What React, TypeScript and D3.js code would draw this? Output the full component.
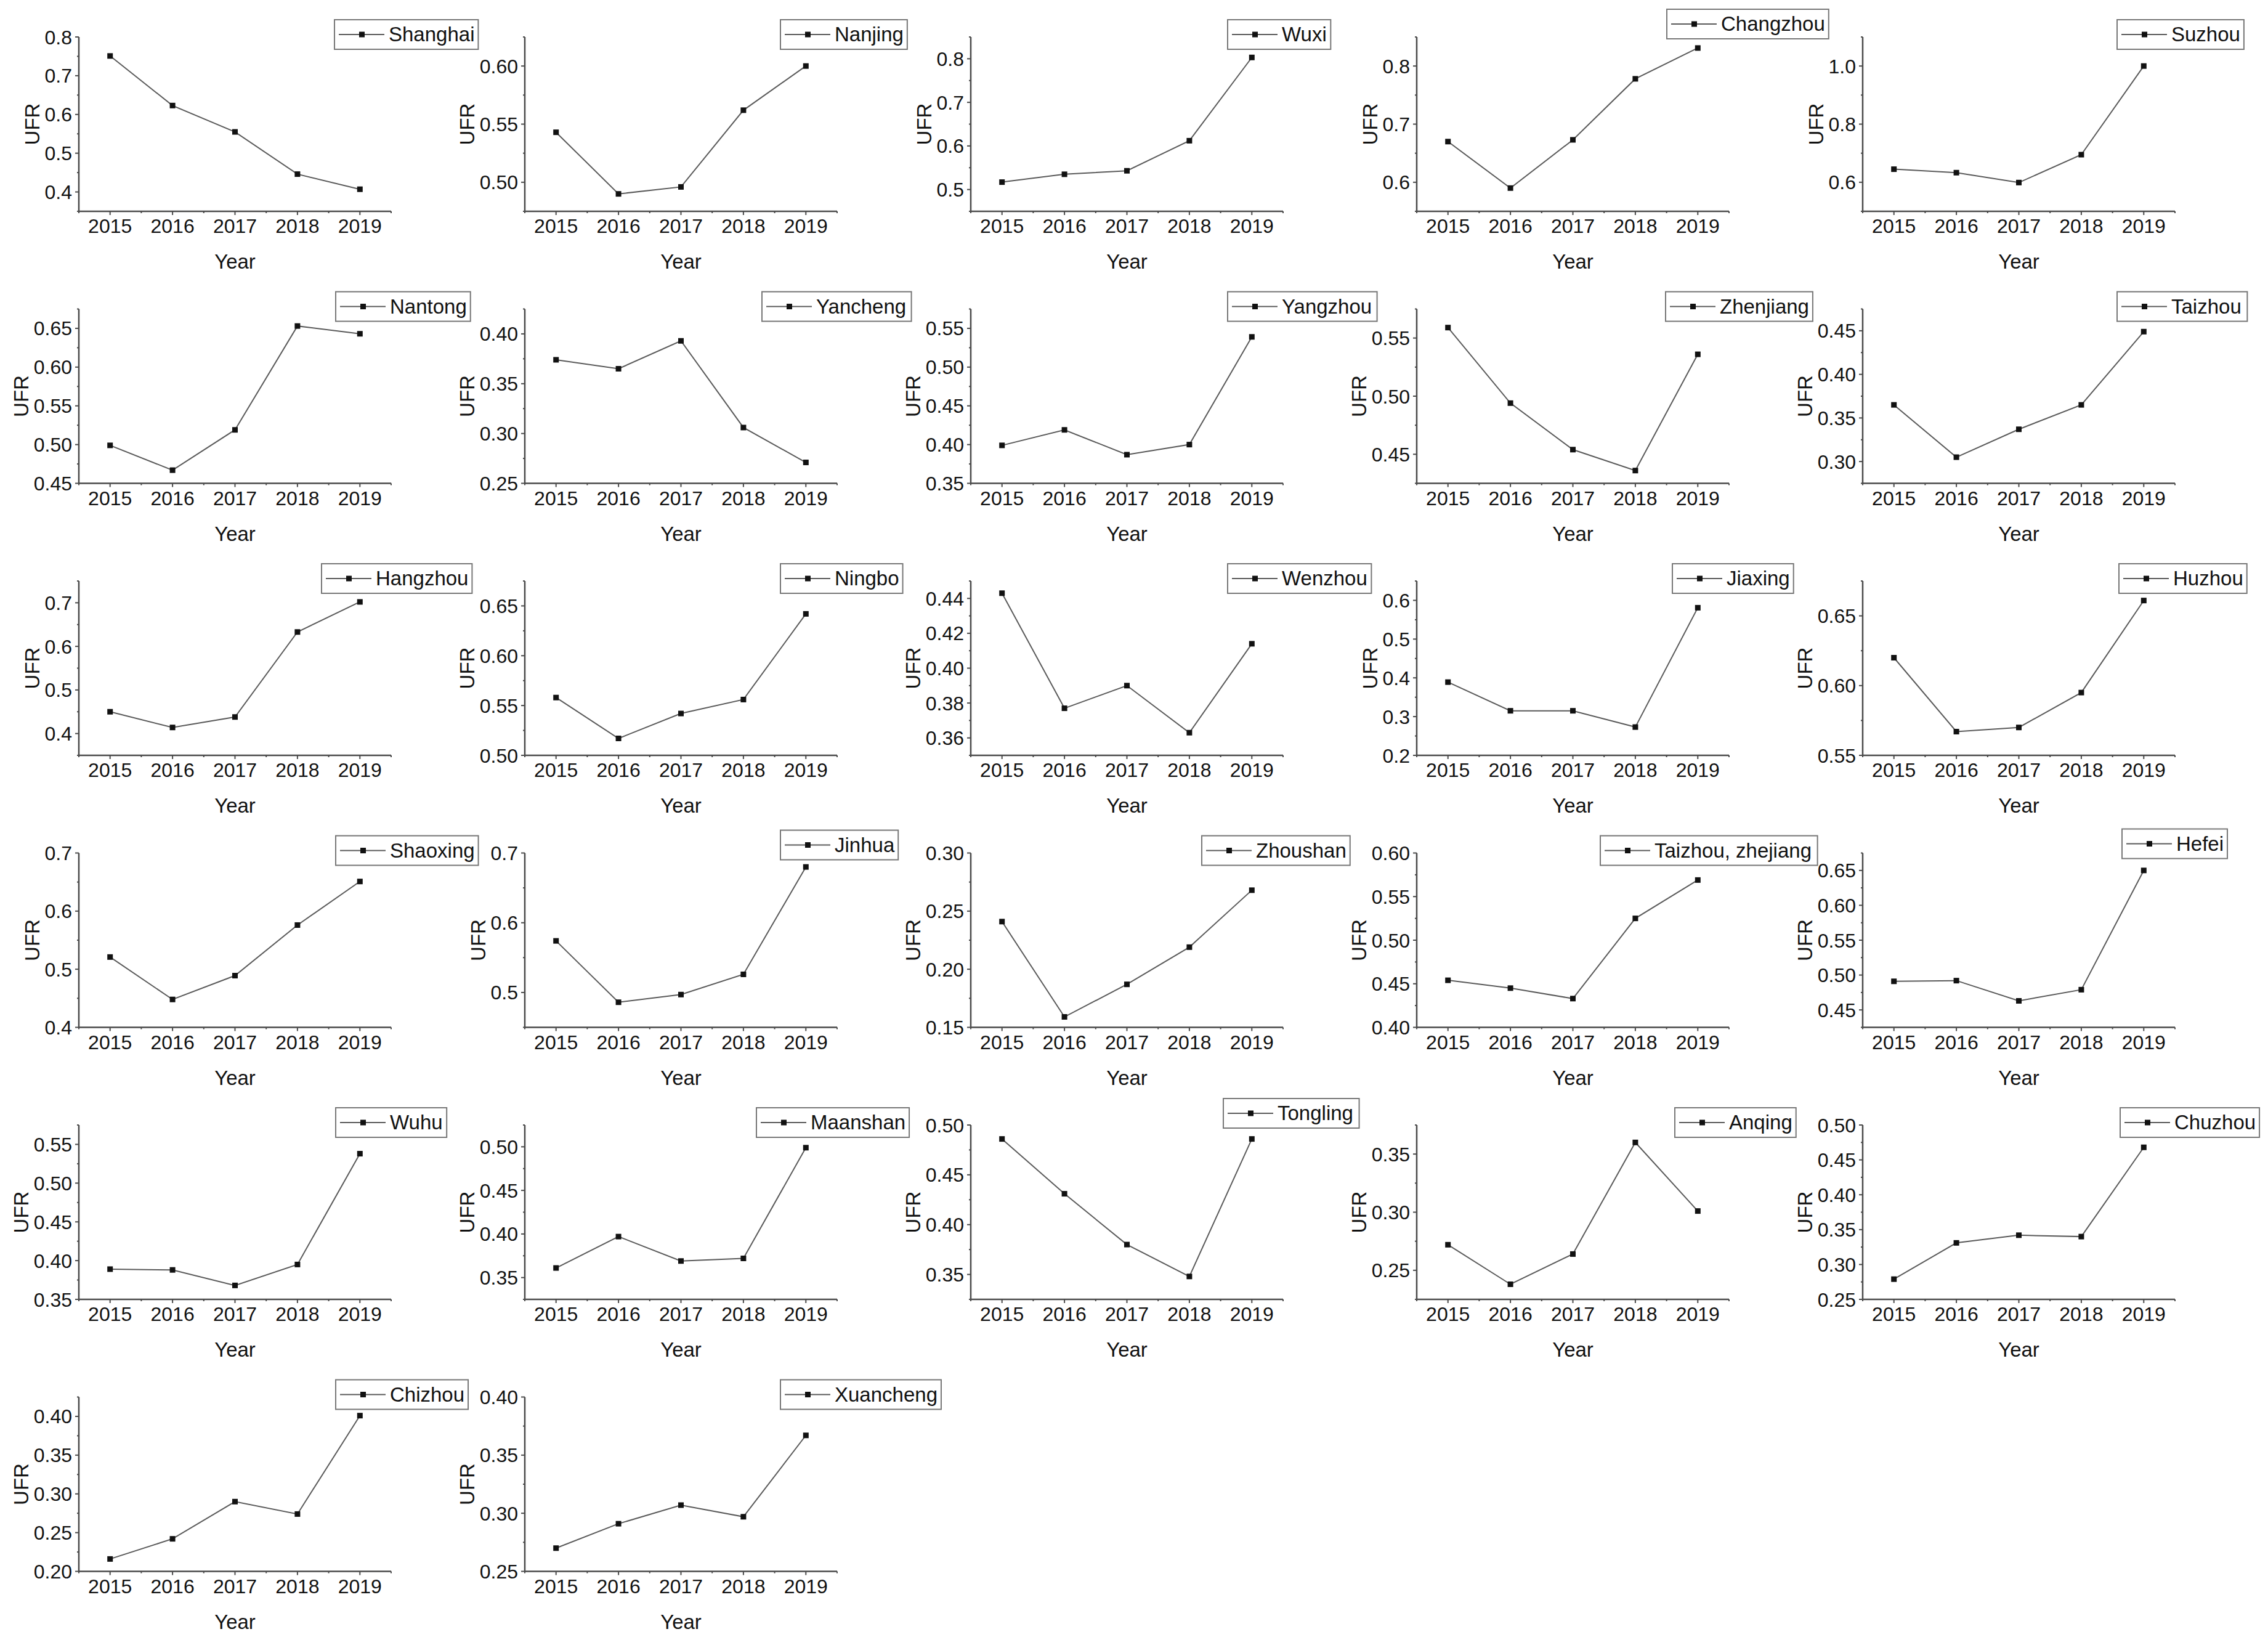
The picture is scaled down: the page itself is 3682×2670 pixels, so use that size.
import * as d3 from "d3";

const years = [2015, 2016, 2017, 2018, 2019];

const cities = [
  "Shanghai", "Nanjing", "Wuxi", "Changzhou", "Suzhou",
  "Nantong", "Yancheng", "Yangzhou", "Zhenjiang", "Taizhou",
  "Hangzhou", "Ningbo", "Wenzhou", "Jiaxing", "Huzhou",
  "Shaoxing", "Jinhua", "Zhoushan", "Taizhou, zhejiang", "Hefei",
  "Wuhu", "Maanshan", "Tongling", "Anqing", "Chuzhou",
  "Chizhou", "Xuancheng",
];

// UFR per city, 2015..2019
const ufr = [
  [0.751, 0.623, 0.555, 0.446, 0.407],
  [0.543, 0.49, 0.496, 0.562, 0.6],
  [0.517, 0.535, 0.543, 0.612, 0.803],
  [0.67, 0.59, 0.673, 0.778, 0.831],
  [0.645, 0.633, 0.599, 0.695, 1.0],
  [0.499, 0.467, 0.519, 0.653, 0.643],
  [0.374, 0.365, 0.393, 0.306, 0.271],
  [0.399, 0.419, 0.387, 0.4, 0.539],
  [0.559, 0.494, 0.454, 0.436, 0.536],
  [0.365, 0.305, 0.337, 0.365, 0.449],
  [0.45, 0.414, 0.438, 0.633, 0.702],
  [0.558, 0.517, 0.542, 0.556, 0.642],
  [0.443, 0.377, 0.39, 0.363, 0.414],
  [0.389, 0.315, 0.315, 0.273, 0.581],
  [0.62, 0.567, 0.57, 0.595, 0.661],
  [0.521, 0.448, 0.489, 0.576, 0.651],
  [0.574, 0.486, 0.497, 0.526, 0.68],
  [0.241, 0.159, 0.187, 0.219, 0.268],
  [0.454, 0.445, 0.433, 0.525, 0.569],
  [0.491, 0.492, 0.463, 0.479, 0.65],
  [0.389, 0.388, 0.368, 0.395, 0.538],
  [0.361, 0.397, 0.369, 0.372, 0.499],
  [0.486, 0.431, 0.38, 0.348, 0.486],
  [0.272, 0.238, 0.264, 0.36, 0.301],
  [0.279, 0.331, 0.342, 0.34, 0.468],
  [0.216, 0.242, 0.29, 0.274, 0.401],
  [0.27, 0.291, 0.307, 0.297, 0.367],
];

// y axis ranges and major tick step per panel
const yMin = [0.35, 0.475, 0.45, 0.55, 0.5, 0.45, 0.25, 0.35, 0.425, 0.275, 0.35, 0.5, 0.35, 0.2, 0.55, 0.4, 0.45, 0.15, 0.4, 0.425, 0.35, 0.325, 0.325, 0.225, 0.25, 0.2, 0.25];
const yMax = [0.8, 0.625, 0.85, 0.85, 1.1, 0.675, 0.425, 0.575, 0.575, 0.475, 0.75, 0.675, 0.45, 0.65, 0.675, 0.7, 0.7, 0.3, 0.6, 0.675, 0.575, 0.525, 0.5, 0.375, 0.5, 0.425, 0.4];
const yStep = [0.1, 0.05, 0.1, 0.1, 0.2, 0.05, 0.05, 0.05, 0.05, 0.05, 0.1, 0.05, 0.02, 0.1, 0.05, 0.1, 0.1, 0.05, 0.05, 0.05, 0.05, 0.05, 0.05, 0.05, 0.05, 0.05, 0.05];

// legend box placement inside each panel
const legendX = [543, 543, 545, 534, 541, 545, 513, 545, 532, 541, 522, 543, 545, 543, 544, 545, 543, 503, 426, 549, 545, 504, 538, 547, 546, 545, 543];
const legendDy = [0, 0, 0, -17, 0, 0, 0, 0, 0, 0, 0, 0, 0, 0, 0, 0, -9, 0, 0, -11, 0, 0, -15, 0, 0, 0, 0];

const W = 3682;
const H = 2670;
const COL_W = 724;
const ROW_H = 441.5;
const PL = 128;
const PR = 635;
const PT = 60;
const PB = 343;
const FONT = "'Liberation Sans', Arial, sans-serif";
const AXIS = "#4a4a4a";

// Arial advance widths (per 1000 em)
const widths: Record<string, number> = {
  a: 556, b: 556, c: 500, d: 556, e: 556, f: 278, g: 556, h: 556, i: 222, j: 222, k: 500, l: 222, m: 833,
  n: 556, o: 556, p: 556, q: 556, r: 333, s: 500, t: 278, u: 556, v: 500, w: 722, x: 500, y: 500, z: 500,
  A: 667, C: 722, H: 722, J: 500, M: 833, N: 722, S: 667, T: 611, W: 944, X: 667, Y: 667, Z: 611,
  ",": 278, " ": 278, ".": 278,
};
const textWidth = (s: string, size: number) =>
  s.split("").reduce((acc, ch) => acc + (widths[ch] ?? 556), 0) * size / 1000;

function Panel({ i }: { i: number }) {
  const col = i % 5;
  const row = Math.floor(i / 5);
  const ox = col * COL_W;
  const oy = row * ROW_H;

  const x = d3.scaleLinear().domain([2014.5, 2019.5]).range([PL, PR]);
  const y = d3.scaleLinear().domain([yMin[i], yMax[i]]).range([PB, PT]);
  const step = yStep[i];
  const fmt = d3.format(`.${d3.precisionFixed(step)}f`);

  const half = step / 2;
  const k0 = Math.ceil(yMin[i] / half - 1e-6);
  const k1 = Math.floor(yMax[i] / half + 1e-6);
  const allTicks = d3.range(k0, k1 + 1).map((k) => ({ v: k * half, major: k % 2 === 0 }));
  const majors = allTicks.filter((t) => t.major);

  const xMinor = d3.range(2014.5, 2020, 1);

  const labelW = d3.max(majors, (t) => textWidth(fmt(t.v), 32)) ?? 40;
  const ufrX = PL - 11 - labelW - 9;

  const line = d3
    .line<number>()
    .x((_, k) => x(years[k]))
    .y((v) => y(v));

  const L = legendX[i];
  const T = 32 + legendDy[i];
  const nameW = textWidth(cities[i], 33);

  return (
    <g transform={`translate(${ox},${oy})`} fontFamily={FONT}>
      {/* axes */}
      <line x1={PL} x2={PL} y1={PT} y2={PB + 1} stroke={AXIS} strokeWidth={2.5} />
      <line x1={PL - 1} x2={PR} y1={PB} y2={PB} stroke={AXIS} strokeWidth={2.5} />
      {allTicks.map((t, k) => (
        <line key={"yt" + k} x1={PL} x2={PL - (t.major ? 6 : 3)} y1={y(t.v)} y2={y(t.v)} stroke={AXIS} strokeWidth={2} />
      ))}
      {majors.map((t, k) => (
        <text key={"yl" + k} x={PL - 11} y={y(t.v)} dy="0.36em" textAnchor="end" fontSize={32} fill="#111">
          {fmt(t.v)}
        </text>
      ))}
      {years.map((yr) => (
        <g key={"x" + yr}>
          <line x1={x(yr)} x2={x(yr)} y1={PB} y2={PB + 6} stroke={AXIS} strokeWidth={2} />
          <text x={x(yr)} y={PB + 35} textAnchor="middle" fontSize={32} fill="#111">
            {yr}
          </text>
        </g>
      ))}
      {xMinor.map((v) => (
        <line key={"xm" + v} x1={x(v)} x2={x(v)} y1={PB} y2={PB + 3} stroke={AXIS} strokeWidth={2} />
      ))}
      <text x={(PL + PR) / 2} y={PB + 93} textAnchor="middle" fontSize={33} fill="#111">
        Year
      </text>
      <text transform={`translate(${ufrX},${(PT + PB) / 2}) rotate(-90)`} textAnchor="middle" fontSize={33} fill="#111">
        UFR
      </text>

      {/* series */}
      <path d={line(ufr[i]) ?? ""} fill="none" stroke="#5a5a5a" strokeWidth={2} />
      {ufr[i].map((v, k) => (
        <rect key={"m" + k} x={x(years[k]) - 4.5} y={y(v) - 4.5} width={9} height={9} fill="#111" />
      ))}

      {/* legend */}
      <rect x={L} y={T} width={94 + nameW} height={48} fill="#fff" stroke="#777" strokeWidth={2} />
      <line x1={L + 7} x2={L + 81} y1={T + 24} y2={T + 24} stroke="#5a5a5a" strokeWidth={2} />
      <rect x={L + 40} y={T + 19.5} width={9} height={9} fill="#111" />
      <text x={L + 88} y={T + 35} fontSize={33} fill="#111">
        {cities[i]}
      </text>
    </g>
  );
}

export default function App() {
  return (
    <svg
      width={W}
      height={H}
      viewBox={`0 0 ${W} ${H}`}
      style={{ position: "absolute", left: 0, top: 0, background: "#fff" }}
    >
      <rect width={W} height={H} fill="#fff" />
      {cities.map((_, i) => (
        <Panel key={i} i={i} />
      ))}
    </svg>
  );
}
